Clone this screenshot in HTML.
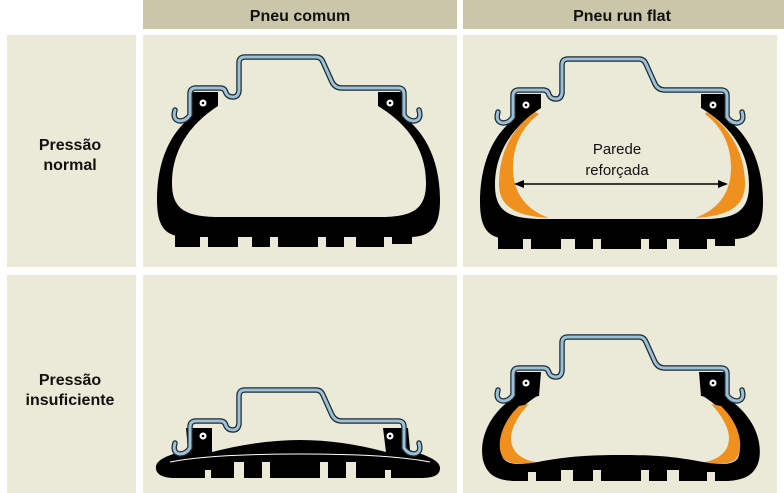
<!DOCTYPE html>
<html><head><meta charset="utf-8"><style>
html,body{margin:0;padding:0;background:#fff;}
svg{display:block}
text{font-family:"Liberation Sans",sans-serif}
</style></head><body>
<svg width="784" height="493" viewBox="0 0 784 493" xmlns="http://www.w3.org/2000/svg">
<defs>
<g id="rim">
<path d="M175 110 Q172 120 180 121 Q186 121 190 115 L190 94 Q190 88 196 88 L220 88 Q225 88 226 93 Q228 97 233 97 Q238 97 239 91 L239 63 Q239 57 245 57 L316 57 Q321 57 323 62 L332 82 Q335 88 342 88 L398 88 Q404 88 404 94 L404 115 Q408 121 414 121 Q422 120 419 110" fill="none" stroke="#1a2a33" stroke-width="5.5" stroke-linecap="round" stroke-linejoin="round"/>
<path d="M175 110 Q172 120 180 121 Q186 121 190 115 L190 94 Q190 88 196 88 L220 88 Q225 88 226 93 Q228 97 233 97 Q238 97 239 91 L239 63 Q239 57 245 57 L316 57 Q321 57 323 62 L332 82 Q335 88 342 88 L398 88 Q404 88 404 94 L404 115 Q408 121 414 121 Q422 120 419 110" fill="none" stroke="#9ec0d6" stroke-width="3" stroke-linecap="round" stroke-linejoin="round"/>
</g>
<g id="beads">
<circle cx="203" cy="103" r="3.5" fill="#fff"/><circle cx="203" cy="103" r="1.3" fill="#000"/>
<circle cx="390" cy="103" r="3.5" fill="#fff"/><circle cx="390" cy="103" r="1.3" fill="#000"/>
</g>
<g id="normalbody">
<path d="M190 92 L218 92 L218 106 C190 124 172 150 172 183 C172 208 184 216 215 217 L385 217 C414 216 426 208 426 183 C426 150 408 124 378 106 L378 92 L404 92 L405 118 C428 135 440 165 440 200 C440 228 430 236 412 237 L185 237 C166 236 157 228 157 200 C157 165 168 135 190 118 Z" fill="#000"/>
<path d="M175 228 C178 236 184 240 192 241 L200 241 L200 247 L175 247 Z" fill="#000"/>
<g fill="#000"><rect x="180" y="232" width="20" height="12"/><rect x="208" y="232" width="30" height="15"/><rect x="252" y="232" width="18" height="15"/><rect x="278" y="232" width="40" height="15"/><rect x="326" y="232" width="18" height="15"/><rect x="356" y="232" width="28" height="15"/><rect x="392" y="232" width="20" height="12"/></g>
</g>
</defs>

<rect x="143" y="0" width="314" height="29" fill="#c9c6a9"/>
<rect x="463" y="0" width="321" height="29" fill="#c9c6a9"/>
<text x="300" y="21" text-anchor="middle" font-size="16" font-weight="bold" fill="#111">Pneu comum</text>
<text x="622" y="21" text-anchor="middle" font-size="16" font-weight="bold" fill="#111">Pneu run flat</text>
<rect x="7" y="35" width="129" height="232" fill="#ebead8"/>
<rect x="143" y="35" width="314" height="232" fill="#ebead8"/>
<rect x="463" y="35" width="314" height="232" fill="#ebead8"/>
<rect x="7" y="275" width="129" height="218" fill="#ebead8"/>
<rect x="143" y="275" width="314" height="218" fill="#ebead8"/>
<rect x="463" y="275" width="314" height="218" fill="#ebead8"/>
<text x="70" y="150" text-anchor="middle" font-size="16" font-weight="bold" fill="#111">Pressão</text>
<text x="70" y="170" text-anchor="middle" font-size="16" font-weight="bold" fill="#111">normal</text>
<text x="70" y="385" text-anchor="middle" font-size="16" font-weight="bold" fill="#111">Pressão</text>
<text x="70" y="405" text-anchor="middle" font-size="16" font-weight="bold" fill="#111">insuficiente</text>

<use href="#normalbody"/>
<use href="#rim"/><use href="#beads"/>

<g transform="translate(323,2)">
<use href="#normalbody"/>
<path d="M212 110 C186 128 176 155 176 182 C176 204 192 214 226 216 C204 208 190 192 190 166 C190 142 200 124 216 112 Z" fill="#f0901e"/>
<path d="M384 110 C410 128 422 155 422 182 C422 204 406 214 372 216 C394 208 408 192 408 166 C408 142 398 124 382 112 Z" fill="#f0901e"/>
<use href="#rim"/><use href="#beads"/>
</g>
<text x="617" y="154" text-anchor="middle" font-size="15" fill="#111">Parede</text>
<text x="617" y="175" text-anchor="middle" font-size="15" fill="#111">reforçada</text>
<line x1="520" y1="184" x2="722" y2="184" stroke="#000" stroke-width="1.5"/>
<path d="M514 184 L524 180 L524 188 Z M728 184 L718 180 L718 188 Z" fill="#000"/>

<path d="M186 428 L212 428 L212 452 C240 445 270 440 300 440 C330 440 360 445 386 452 L383 428 L408 428 L410 450 C425 455 440 460 440 468 C440 476 432 478 420 478 L175 478 C162 478 155 474 156 466 C158 458 172 454 188 450 Z" fill="#000"/>
<path d="M170 462 C200 456 250 454 300 454 C350 454 400 456 430 462" fill="none" stroke="#fff" stroke-width="1"/>
<g fill="#ebead8"><rect x="205" y="470" width="6" height="10"/><rect x="234" y="462" width="10" height="18"/><rect x="262" y="462" width="8" height="18"/><rect x="320" y="462" width="8" height="18"/><rect x="346" y="462" width="10" height="18"/><rect x="385" y="470" width="6" height="10"/></g>
<g transform="translate(0,333)"><use href="#rim"/><use href="#beads"/></g>

<g transform="translate(323,280)">
<path d="M188 92 L218 92 L216 116 L190 120 Z" fill="#000"/>
<path d="M376 92 L406 92 L404 120 L378 116 Z" fill="#000"/>
<path d="M190 118 C165 135 156 160 160 180 C164 196 175 200 190 201 L405 201 C420 200 432 196 436 180 C440 160 430 135 404 118 L380 116 C410 135 422 160 415 178 C410 185 400 185 380 182 C350 176 330 175 300 175 C270 175 245 176 215 182 C195 185 185 185 180 178 C172 160 185 135 214 116 Z" fill="#000"/>
<path d="M196 126 C176 145 172 170 182 180 C188 184 200 185 212 182 C192 178 184 165 190 148 C194 138 200 130 206 124 Z" fill="#f0901e"/>
<path d="M398 126 C418 145 422 170 412 180 C406 184 394 185 382 182 C402 178 410 165 404 148 C400 138 394 130 388 124 Z" fill="#f0901e"/>
<g fill="#ebead8"><rect x="205" y="192" width="8" height="10"/><rect x="238" y="190" width="12" height="12"/><rect x="270" y="190" width="8" height="12"/><rect x="318" y="190" width="8" height="12"/><rect x="344" y="190" width="12" height="12"/><rect x="384" y="192" width="8" height="10"/></g>
<use href="#rim"/><use href="#beads"/>
</g>
</svg>
</body></html>
